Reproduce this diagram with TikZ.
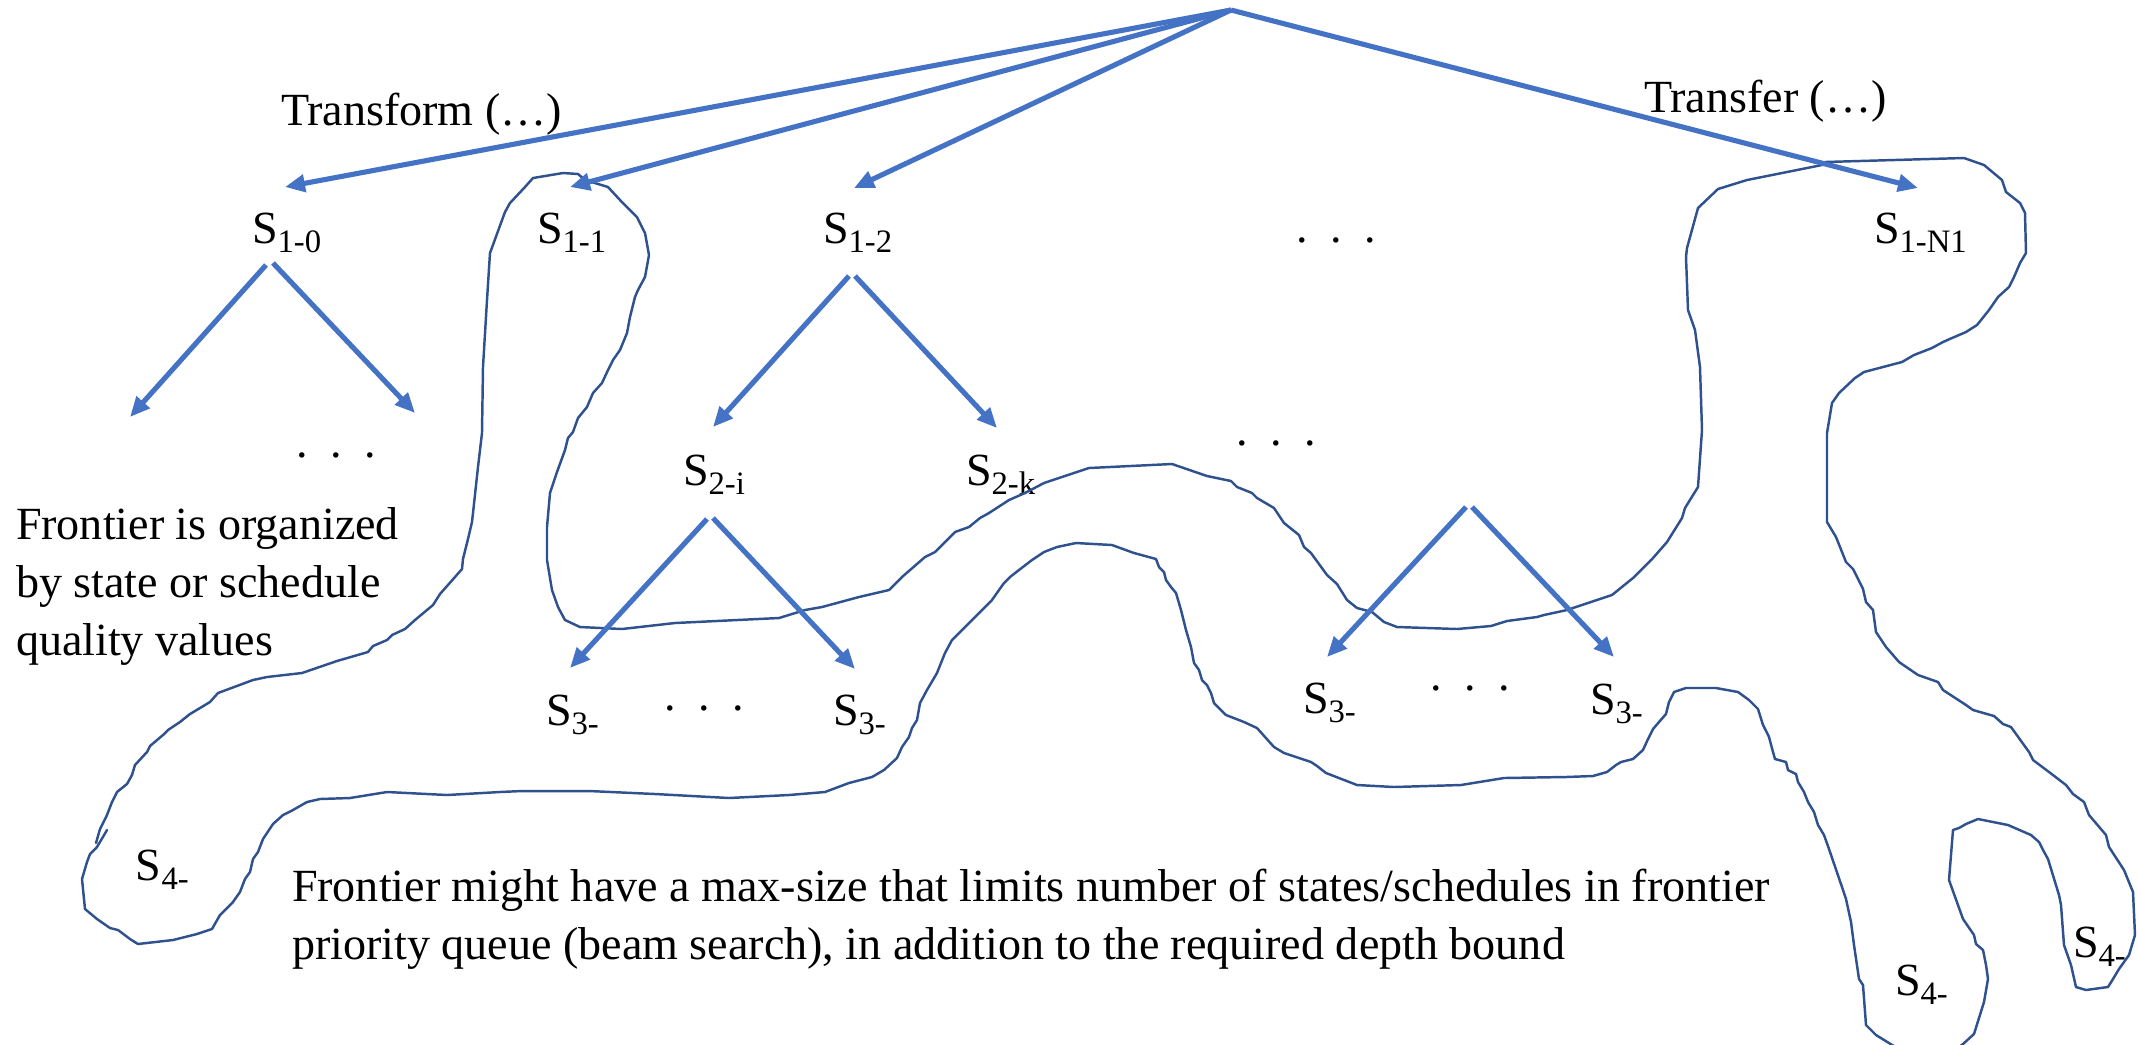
\documentclass[tikz,border=0pt]{standalone}
\usepackage{fontspec}
\setmainfont{Liberation Serif}
\usetikzlibrary{arrows.meta}
\definecolor{arrblue}{RGB}{68,114,196}
\definecolor{curveblue}{RGB}{47,82,143}
\newcommand\Ssub[1]{S\raisebox{-2.6pt}{\fontsize{9.3pt}{10pt}\selectfont #1}}
\newcommand\dotrow{\makebox[0.34cm]{.}\makebox[0.34cm]{.}\makebox[0.34cm]{.}}
\begin{document}
\begin{tikzpicture}[x=0.01cm,y=-0.01cm,
  every node/.style={inner sep=0pt, outer sep=0pt, font=\fontsize{13.1pt}{16.4pt}\selectfont},
  lbl/.style={anchor=base west},
  dotsnode/.style={anchor=base},
  arr/.style={draw=arrblue, line width=1.45pt, -{Triangle[length=0.2cm,width=0.17cm]}},
  frontier/.style={draw=curveblue, line width=0.7pt, line join=round, line cap=round}]
\useasboundingbox (0,0) rectangle (2138,1044);
\clip (0,0) rectangle (2138,1044);

% ---------- labels ----------
\node[lbl] (s10) at (252,243) {\Ssub{1-0}};
\node[lbl] (s11) at (537,243) {\Ssub{1-1}};
\node[lbl] (s12) at (823,243) {\Ssub{1-2}};
\node[lbl] (s1n) at (1874,243) {\Ssub{1-N1}};
\node[lbl] (s2i) at (683,485) {\Ssub{2-i}};
\node[lbl] (s2k) at (966,485) {\Ssub{2-k}};
\node[lbl] (s3a) at (546,725) {\Ssub{3-}};
\node[lbl] (s3b) at (833,725) {\Ssub{3-}};
\node[lbl] (s3c) at (1303,713) {\Ssub{3-}};
\node[lbl] (s3d) at (1590,714) {\Ssub{3-}};
\node[lbl] (s4a) at (136,880) {\Ssub{4-}};
\node[lbl] (s4b) at (1895,995) {\Ssub{4-}};
\node[lbl] (s4c) at (2073,957) {\Ssub{4-}};

\node[dotsnode] (d1) at (1336,242) {\dotrow};
\node[dotsnode] (d2) at (336,457) {\dotrow};
\node[dotsnode] (d3) at (1276,445) {\dotrow};
\node[dotsnode] (d4) at (704,710) {\dotrow};
\node[dotsnode] (d5) at (1470,690) {\dotrow};

\node[lbl] (transform) at (281,125) {Transform (…)};
\node[lbl] (transfer) at (1644,112) {Transfer (…)};
% base anchor of a multi-line node is the baseline of its last line
\node[anchor=base west, align=left] (note1) at (16,655)
  {Frontier is organized\\by state or schedule\\quality values};
\node[anchor=base west, align=left] (note2) at (292,959)
  {Frontier might have a max-size that limits number of  states/schedules in frontier\\priority queue (beam search), in addition to the required depth bound};

% ---------- connector end points ----------
\coordinate (root) at (1231,10);
\coordinate (t10) at (285,187);
\coordinate (t11) at (570,187);
\coordinate (t12) at (854,188);
\coordinate (t1n) at (1918,188);
\coordinate (a10l) at (266,265); \coordinate (b10l) at (130,417);
\coordinate (a10r) at (273,263); \coordinate (b10r) at (415,413);
\coordinate (a12l) at (849,276); \coordinate (b12l) at (713,427);
\coordinate (a12r) at (855,276); \coordinate (b12r) at (997,428);
\coordinate (a2il) at (707,519); \coordinate (b2il) at (570,668);
\coordinate (a2ir) at (713,518); \coordinate (b2ir) at (855,669);
\coordinate (adl) at (1466,507); \coordinate (bdl) at (1327,657);
\coordinate (adr) at (1472,507); \coordinate (bdr) at (1614,657);

% ---------- frontier curve ----------
\draw[frontier] (96,843) -- (100,829) -- (107,815) -- (112,802) -- (117,792) -- (127,784) -- (132,775) -- (135,765) -- (147,752) -- (150,746) -- (163,735) -- (168,730) -- (180,722) -- (190,714) -- (210,702) -- (218,693) -- (253,680) -- (267,677) -- (302,673) -- (337,661) -- (368,652) -- (373,646) -- (387,640) -- (392,635) -- (405,629) -- (415,620) -- (433,605) -- (440,594) -- (455,577) -- (462,569) -- (463,559) -- (468,539) -- (472,522) -- (473,513) -- (478,467) -- (482,433) -- (483,367) -- (487,300) -- (490,253) -- (505,212) -- (510,203) -- (525,187) -- (533,178) -- (563,173) -- (578,174) -- (585,180) -- (608,187) -- (620,200) -- (637,217) -- (645,233) -- (649,255) -- (645,277) -- (638,290) -- (635,297) -- (630,317) -- (627,333) -- (620,350) -- (613,360) -- (608,370) -- (602,383) -- (593,393) -- (587,407) -- (578,418) -- (573,432) -- (568,438) -- (565,450) -- (557,472) -- (550,493) -- (547,527) -- (547,560) -- (552,590) -- (558,607) -- (565,620)
 -- (580,627) -- (622,629) -- (675,623) -- (779,618) -- (805,610) -- (822,607) -- (859,597) -- (889,590) -- (902,577) -- (925,557) -- (935,552) -- (955,532) -- (969,527) -- (980,518) -- (989,513) -- (1009,500) -- (1025,493) -- (1044,483) -- (1071,474) -- (1089,468) -- (1172,464) -- (1207,476) -- (1231,481) -- (1237,487) -- (1252,493) -- (1257,498) -- (1274,508) -- (1284,523) -- (1299,535) -- (1304,547) -- (1311,553) -- (1327,575) -- (1337,584) -- (1347,600) -- (1357,608) -- (1372,612) -- (1384,622) -- (1397,627) -- (1457,629) -- (1491,626) -- (1507,621) -- (1537,617) -- (1544,615) -- (1567,610) -- (1612,595) -- (1633,578) -- (1653,558) -- (1667,542) -- (1682,518) -- (1685,508) -- (1698,487) -- (1702,430) -- (1700,367) -- (1695,330) -- (1688,310) -- (1686,257) -- (1687,248) -- (1698,208) -- (1718,189) -- (1747,180) -- (1822,165) -- (1825,162) -- (1964,158) -- (1984,165) -- (2002,180) -- (2006,192) -- (2020,203) -- (2025,213) -- (2026,253) -- (2020,263) -- (2014,277) -- (2009,287) -- (1998,297) -- (1989,310) -- (1977,325) -- (1966,332) -- (1952,338) -- (1943,342) -- (1932,348) -- (1914,355) -- (1902,362) -- (1864,372) -- (1855,378) -- (1839,393) -- (1832,403) -- (1827,433) -- (1827,522) -- (1836,537) -- (1846,562) -- (1853,569) -- (1863,589) -- (1866,602) -- (1873,610) -- (1876,632) -- (1886,647) -- (1899,662) -- (1918,675) -- (1938,682) -- (1943,690) -- (1966,705) -- (1973,710) -- (1994,716) -- (2003,724) -- (2011,727) -- (2029,752) -- (2033,760) -- (2049,772) -- (2066,785) -- (2073,794) -- (2084,802) -- (2089,815) -- (2106,835) -- (2109,847) -- (2124,870) -- (2133,892) -- (2135,935) -- (2129,955) -- (2119,969) -- (2113,979) -- (2108,987) -- (2086,990) -- (2076,987) -- (2071,965) -- (2064,945) -- (2061,905) -- (2059,895) -- (2048,859) -- (2043,850) -- (2039,842) -- (2031,835) -- (2008,825) -- (1978,819) -- (1966,824) -- (1959,828) -- (1953,830) -- (1951,855) -- (1949,880) -- (1963,919) -- (1974,935) -- (1976,944) -- (1983,950) -- (1986,965) -- (1988,979) -- (1984,1002) -- (1974,1034) -- (1963,1044) -- (1945,1058) -- (1910,1056) -- (1876,1035) -- (1866,1025) -- (1863,985) -- (1859,979) -- (1854,945) -- (1851,922) -- (1846,899) -- (1843,890) -- (1829,849) -- (1824,835) -- (1818,825) -- (1814,812) -- (1808,802) -- (1804,792) -- (1798,782) -- (1796,774) -- (1788,770) -- (1786,762) -- (1775,759) -- (1773,752) -- (1769,737) -- (1763,725) -- (1758,709) -- (1749,700) -- (1738,692) -- (1716,688) -- (1686,688) -- (1674,692) -- (1669,702) -- (1666,714) -- (1659,722) -- (1653,729) -- (1648,739) -- (1643,750) -- (1633,759) -- (1621,762) -- (1616,765) -- (1607,772) -- (1593,776) -- (1566,777) -- (1504,778) -- (1461,785) -- (1394,787) -- (1357,785) -- (1326,773) -- (1317,766) -- (1311,762) -- (1284,753) -- (1274,747) -- (1257,728) -- (1244,722) -- (1226,715) -- (1214,703) -- (1211,693) -- (1207,685) -- (1202,680) -- (1199,670) -- (1194,663) -- (1191,647) -- (1186,630) -- (1181,610) -- (1176,593) -- (1171,587) -- (1166,580) -- (1164,572) -- (1159,567) -- (1156,559) -- (1134,553) -- (1112,545) -- (1076,543) -- (1057,547) -- (1044,552) -- (1032,560) -- (1019,570) -- (1010,577) -- (1004,583) -- (999,590) -- (992,600) -- (984,608) -- (979,613) -- (969,623) -- (959,633) -- (952,640) -- (945,653) -- (937,673) -- (927,690) -- (920,703) -- (917,720) -- (912,728) -- (909,737) -- (902,747) -- (897,758) -- (884,770) -- (872,777) -- (849,783) -- (825,792) -- (789,795) -- (729,798) -- (655,794) -- (589,791) -- (522,791) -- (500,792) -- (447,795) -- (387,792) -- (350,798) -- (320,799) -- (307,802) -- (293,810) -- (283,815) -- (273,824) -- (263,839) -- (258,852) -- (253,859) -- (250,872) -- (245,879) -- (240,892) -- (233,902) -- (220,915) -- (212,929) -- (197,934) -- (173,940) -- (138,944) -- (130,939) -- (118,930) -- (110,928) -- (97,919) -- (85,909) -- (82,879) -- (87,862) -- (90,854) -- (97,847) -- (100,842) -- (107,830);

% ---------- arrows ----------
\draw[arr] (root) -- (t10);
\draw[arr] (root) -- (t11);
\draw[arr] (root) -- (t12);
\draw[arr] (root) -- (t1n);
\draw[arr] (a10l) -- (b10l);
\draw[arr] (a10r) -- (b10r);
\draw[arr] (a12l) -- (b12l);
\draw[arr] (a12r) -- (b12r);
\draw[arr] (a2il) -- (b2il);
\draw[arr] (a2ir) -- (b2ir);
\draw[arr] (adl) -- (bdl);
\draw[arr] (adr) -- (bdr);
\end{tikzpicture}
\end{document}
